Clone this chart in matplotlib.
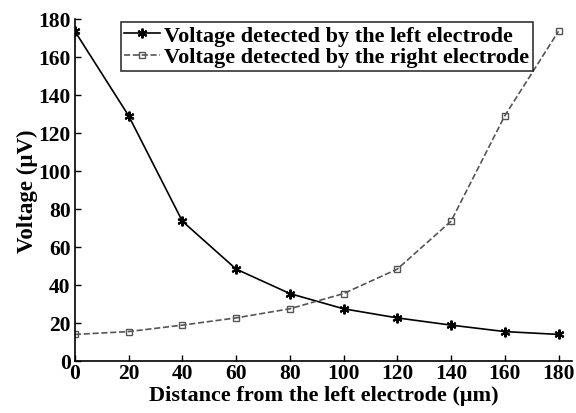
import matplotlib
matplotlib.use('Agg')
from matplotlib import pyplot as plt

distance = [0, 20, 40, 60, 80, 100, 120, 140, 160, 180]
left_voltage = [173.5, 129, 73.5, 48.3, 35.4, 27.4, 22.6, 18.8, 15.4, 13.9]
right_voltage = [13.9, 15.4, 18.8, 22.6, 27.4, 35.4, 48.3, 73.5, 129, 173.5]

plt.rcParams['font.family'] = 'Liberation Serif'
plt.rcParams['font.weight'] = 'bold'

fig = plt.figure(figsize=(5.76, 4.14), dpi=100)
ax = fig.add_axes([0.130, 0.126, 0.863, 0.826])

ax.plot(distance, left_voltage, '-', color='black', marker=(6, 2, 0), markersize=7,
        markeredgewidth=1.5, linewidth=1.2, label='Voltage detected by the left electrode')
ax.plot(distance, right_voltage, '--', color='#555555', marker='s', markersize=4.5,
        markerfacecolor='none', markeredgewidth=1.0, linewidth=1.2,
        label='Voltage detected by the right electrode')

ax.set_xlim(0, 185)
ax.set_ylim(0, 180)
ax.set_xticks(range(0, 181, 20))
ax.set_yticks(range(0, 181, 20))
ax.tick_params(direction='in', labelsize=15.5, length=4, width=1)
ax.tick_params(axis='x', pad=1.5)
ax.tick_params(axis='y', pad=3)
for lab in ax.get_xticklabels() + ax.get_yticklabels():
    lab.set_fontweight('bold')

ax.spines['top'].set_visible(False)
ax.spines['right'].set_visible(False)
ax.spines['left'].set_linewidth(1.2)
ax.spines['bottom'].set_linewidth(1.2)

ax.set_xlabel('Distance from the left electrode (\u03bcm)', fontsize=16,
              fontweight='bold', labelpad=1.5)
ax.set_ylabel('Voltage (\u03bcV)', fontsize=16.5, fontweight='bold', labelpad=0)

leg = ax.legend(loc='upper left', bbox_to_anchor=(0.21, 0.945),
                bbox_transform=fig.transFigure, fontsize=16, frameon=True,
                fancybox=False, borderpad=0.15, handlelength=1.6,
                handletextpad=0.2, labelspacing=0.05, borderaxespad=0)
leg.get_frame().set_edgecolor('black')
leg.get_frame().set_linewidth(1.2)
for t in leg.get_texts():
    t.set_fontweight('bold')

fig.savefig('out.png', dpi=100)
